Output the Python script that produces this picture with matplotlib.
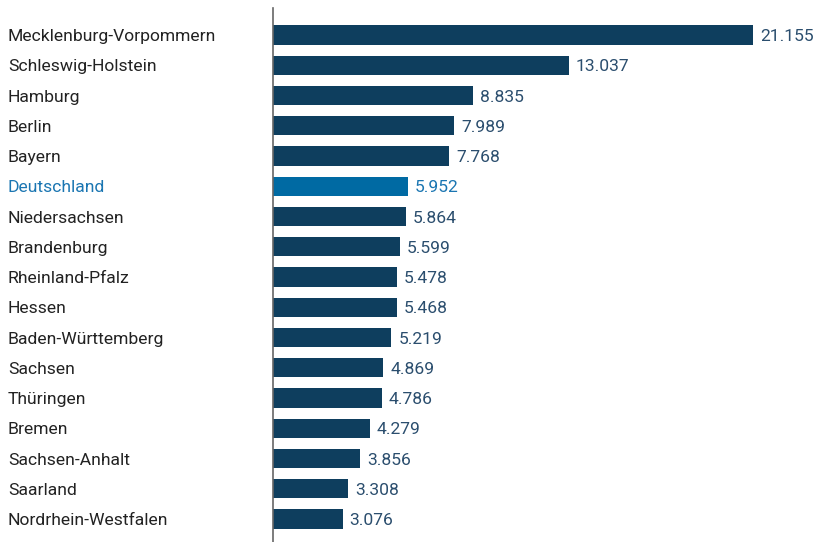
import matplotlib
matplotlib.use("Agg")
import matplotlib.pyplot as plt
from matplotlib import font_manager

states = ["Mecklenburg-Vorpommern", "Schleswig-Holstein", "Hamburg", "Berlin", "Bayern",
          "Deutschland", "Niedersachsen", "Brandenburg", "Rheinland-Pfalz", "Hessen",
          "Baden-Württemberg", "Sachsen", "Thüringen", "Bremen", "Sachsen-Anhalt",
          "Saarland", "Nordrhein-Westfalen"]
values = [21.155, 13.037, 8.835, 7.989, 7.768, 5.952, 5.864, 5.599, 5.478, 5.468,
          5.219, 4.869, 4.786, 4.279, 3.856, 3.308, 3.076]
value_labels = ["21.155", "13.037", "8.835", "7.989", "7.768", "5.952", "5.864", "5.599",
                "5.478", "5.468", "5.219", "4.869", "4.786", "4.279", "3.856", "3.308", "3.076"]
highlight = "Deutschland"

plt.rcParams['font.family'] = ['Roboto', 'DejaVu Sans']

dark = "#0e3e5e"
hi = "#006aa3"
txt = "#222222"
valc = "#2b4e6e"
hitxt = "#1b76b2"

W, H = 815, 542
fig = plt.figure(figsize=(W / 100, H / 100), dpi=100)
ax = fig.add_axes([273 / W, 0, 1 - 273 / W, (542 - 8) / H])

ypos = list(range(len(states)))
colors = [hi if s == highlight else dark for s in states]
ax.barh(ypos, values, height=0.63, color=colors, align='center')
ax.set_ylim(16.76, -0.893)
ax.set_xlim(0, 23.89)

for y, v, lab, s in zip(ypos, values, value_labels, states):
    ax.annotate(lab, (v, y), xytext=(5, 0), textcoords='offset points',
                ha='left', va='center_baseline', fontsize=12.6,
                color=hitxt if s == highlight else valc)

ax.set_yticks(ypos)
ax.set_yticklabels(states, fontsize=12.6)
for t, s in zip(ax.get_yticklabels(), states):
    t.set_ha('left')
    t.set_va('center_baseline')
    t.set_color(hitxt if s == highlight else txt)
ax.tick_params(axis='y', length=0, pad=(273 - 8) * 72 / 100)
ax.set_xticks([])
for sp in ['top', 'right', 'bottom']:
    ax.spines[sp].set_visible(False)
ax.spines['left'].set_color('#666666')
ax.spines['left'].set_linewidth(1.2)

fig.savefig("out.png", dpi=100)
